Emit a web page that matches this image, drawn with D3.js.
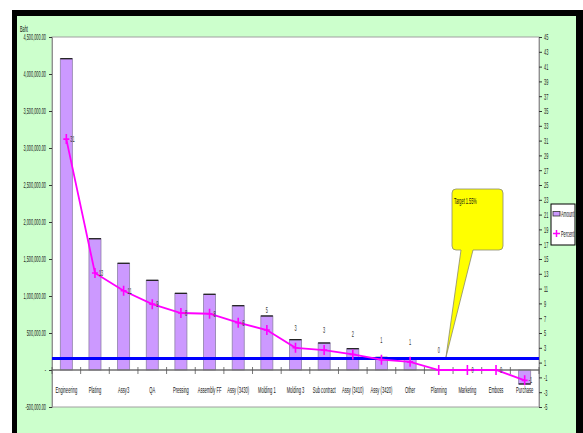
<!DOCTYPE html>
<html><head><meta charset="utf-8">
<script src="https://cdn.jsdelivr.net/npm/d3@7"></script>
<style>
html,body{margin:0;padding:0;background:#fff;}
svg{display:block;}
text{font-family:"Liberation Sans",Arial,sans-serif;}
</style></head><body>
<svg id="chart" width="583" height="433"></svg>
<script>
// Cost by department (Baht) with share of total (%)
const categories = ["Engineering","Plating","Assy3","QA","Pressing","Assembly FF","Assy (3430)","Molding 1","Molding 3","Sub contract","Assy (3410)","Assy (3420)","Other","Planning","Marketing","Emboss","Purchase"];
const amounts = [4207000,1774000,1442000,1212000,1036000,1023000,869000,730000,410000,365000,288000,170000,145000,0,0,0,-189000];
const percents = [31.2,13.1,10.7,8.9,7.7,7.6,6.4,5.4,3.0,2.7,2.1,1.4,1.1,0,0,0,-1.4];
const amountTicks = [-500000,0,500000,1000000,1500000,2000000,2500000,3000000,3500000,4000000,4500000];
const percentTicks = [-5,-3,-1,1,3,5,7,9,11,13,15,17,19,21,23,25,27,29,31,33,35,37,39,41,43,45];
const targetPercent = 1.55;
const targetLabel = "Target 1.55%";
const unitLabel = "Baht";
const seriesNames = ["Amount","Percent"];

const W = 583, H = 433;
const plot = {l:52, t:37, r:539, b:407};
const SQ = 0.43;            // narrow lettering
const FS = 9;
const barFill = "#cc99ff", lineCol = "#ff00ff";

const svg = d3.select("#chart");

// frame
svg.append("rect").attr("width",W).attr("height",H).attr("fill","#fff");
svg.append("rect").attr("x",12).attr("y",10).attr("width",W-12).attr("height",H-10).attr("fill","#000");
svg.append("rect").attr("x",17).attr("y",16).attr("width",559).attr("height",H-16).attr("fill","#ccffcc");

// plot area
svg.append("rect").attr("x",plot.l).attr("y",plot.t).attr("width",plot.r-plot.l).attr("height",plot.b-plot.t)
  .attr("fill","#fff").attr("stroke","#a0a0a0").attr("stroke-width",1);

const x = d3.scaleBand().domain(categories).range([plot.l,plot.r]).paddingInner(0.58).paddingOuter(0.29);
const yL = d3.scaleLinear().domain([amountTicks[0], amountTicks[amountTicks.length-1]]).range([plot.b,plot.t]);
const yR = d3.scaleLinear().domain([percentTicks[0], percentTicks[percentTicks.length-1]]).range([plot.b,plot.t]);
const bw = x.bandwidth();
const cx = c => x(c) + bw/2;

function squeezeAxisText(g){
  g.selectAll("text").each(function(){
    const t = d3.select(this);
    const xx = +t.attr("x") || 0;
    t.attr("x", xx/SQ).attr("transform", `scale(${SQ},1)`);
  });
}
function label(parent, px, py, str, anchor, fill, size){
  return parent.append("text")
    .attr("transform", `translate(${px},${py}) scale(${SQ},1)`)
    .attr("text-anchor", anchor || "start")
    .attr("font-size", size || FS)
    .attr("fill", fill || "#111")
    .text(str);
}
const hy = s => s.replace("\u2212","-");

// left axis (Baht)
const axL = svg.append("g").attr("transform",`translate(${plot.l},0)`)
  .call(d3.axisLeft(yL).tickValues(amountTicks).tickSize(3).tickPadding(3)
    .tickFormat(v => v === 0 ? "-" : hy(d3.format(",.2f")(v))));
axL.select(".domain").attr("stroke","#909090");
axL.selectAll(".tick line").attr("stroke","#333");
axL.selectAll("text").attr("font-size",FS).attr("fill","#222").attr("font-family",null);
squeezeAxisText(axL);

// right axis (%)
const axR = svg.append("g").attr("transform",`translate(${plot.r},0)`)
  .call(d3.axisRight(yR).tickValues(percentTicks).tickSize(3).tickPadding(2)
    .tickFormat(v => hy(d3.format("d")(v))));
axR.select(".domain").attr("stroke","#909090");
axR.selectAll(".tick line").attr("stroke","#333");
axR.selectAll("text").attr("font-size",FS).attr("fill","#222").attr("font-family",null);
squeezeAxisText(axR);

label(svg, 20, 32, unitLabel, "start", "#111", FS);

// bars
const bars = svg.append("g");
categories.forEach((c,i) => {
  const v = amounts[i];
  if (v === 0) return;
  const y0 = yL(0), y1 = yL(v);
  bars.append("rect").attr("x",x(c)).attr("y",Math.min(y0,y1)).attr("width",bw).attr("height",Math.abs(y1-y0))
    .attr("fill",barFill).attr("stroke","#8e80a8").attr("stroke-width",0.8);
  bars.append("line").attr("x1",x(c)).attr("x2",x(c)+bw).attr("y1",y1).attr("y2",y1)
    .attr("stroke","#222").attr("stroke-width",1.3);
});

// category axis on zero line
const zy = yL(0);
const cat = svg.append("g");
cat.append("line").attr("x1",plot.l).attr("x2",plot.r).attr("y1",zy).attr("y2",zy).attr("stroke","#707070").attr("stroke-width",1.3);
d3.range(categories.length+1).forEach(i => {
  const bx = plot.l + i*x.step();
  cat.append("line").attr("x1",bx).attr("x2",bx).attr("y1",zy-3).attr("y2",zy+4).attr("stroke","#555").attr("stroke-width",0.8);
});
categories.forEach(c => label(cat, cx(c), 392.5, c, "middle", "#111", 9.5));

// target line
const ty = yR(targetPercent);
svg.append("line").attr("x1",plot.l).attr("x2",plot.r).attr("y1",ty).attr("y2",ty)
  .attr("stroke","#0000ff").attr("stroke-width",3);

// percent line
const pts = categories.map((c,i) => [cx(c), yR(percents[i])]);
svg.append("path").attr("d", d3.line()(pts)).attr("fill","none").attr("stroke",lineCol).attr("stroke-width",1.8);
const mk = svg.append("g");
pts.forEach(([px,py]) => {
  mk.append("path").attr("d",`M${px-3},${py}H${px+3}M${px},${py-5}V${py+5}`)
    .attr("stroke",lineCol).attr("stroke-width",1.6).attr("fill","none");
});
// percent value labels
const pl = svg.append("g");
percents.forEach((p,i) => {
  const [px,py] = pts[i];
  const t = hy(d3.format(".0f")(p));
  if (i >= 7 && i <= 13) label(pl, px, py-17, t, "middle", "#333", FS);
  else label(pl, px+4, py+3, t, "start", "#333", FS);
});

// callout for the target
const bx0=452, by0=189, bx1=503, by1=250, r=4;
const tipX = 446, tipY = ty-1.5;
const cp = d3.path();
cp.moveTo(bx0+r,by0); cp.lineTo(bx1-r,by0); cp.quadraticCurveTo(bx1,by0,bx1,by0+r);
cp.lineTo(bx1,by1-r); cp.quadraticCurveTo(bx1,by1,bx1-r,by1);
cp.lineTo(473,by1); cp.lineTo(tipX,tipY); cp.lineTo(461,by1);
cp.lineTo(bx0+r,by1); cp.quadraticCurveTo(bx0,by1,bx0,by1-r);
cp.lineTo(bx0,by0+r); cp.quadraticCurveTo(bx0,by0,bx0+r,by0); cp.closePath();
svg.append("path").attr("d",cp.toString()).attr("fill","#ffff00").attr("stroke","#8a8a70").attr("stroke-width",0.8);
label(svg, 454, 204, targetLabel, "start", "#111", FS);

// legend
const lg = svg.append("g");
lg.append("rect").attr("x",551).attr("y",204).attr("width",24).attr("height",41).attr("fill","#fff").attr("stroke","#000").attr("stroke-width",1);
lg.append("rect").attr("x",553).attr("y",211.5).attr("width",7).attr("height",4.5).attr("fill",barFill).attr("stroke","#333").attr("stroke-width",0.8);
label(lg, 561, 217, seriesNames[0], "start", "#111", FS);
lg.append("path").attr("d","M553,233.5H560M556.5,230V237").attr("stroke",lineCol).attr("stroke-width",1.5);
label(lg, 561, 236.5, seriesNames[1], "start", "#111", FS);
</script>
</body></html>
